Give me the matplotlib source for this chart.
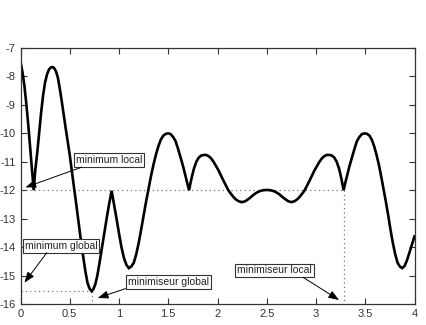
import matplotlib
matplotlib.use("Agg")
import matplotlib.pyplot as plt

plt.rcParams['font.family'] = ['Liberation Sans', 'DejaVu Sans']

# curve
x_vals = [0, 0.02, 0.04, 0.06, 0.08, 0.10, 0.12, 0.134,
          0.15, 0.17, 0.19, 0.21, 0.23, 0.25, 0.27, 0.29, 0.31, 0.325,
          0.34, 0.36, 0.38, 0.40, 0.42, 0.44, 0.46, 0.48, 0.50, 0.52, 0.54, 0.56, 0.58,
          0.60, 0.62, 0.64, 0.66, 0.68, 0.70, 0.722,
          0.74, 0.76, 0.78, 0.80, 0.82, 0.84, 0.86, 0.88, 0.90, 0.925,
          0.95, 0.975, 1.0, 1.025, 1.05, 1.075, 1.10, 1.125,
          1.15, 1.175, 1.20, 1.225, 1.25, 1.275, 1.30, 1.325, 1.35, 1.375, 1.40, 1.425,
          1.45, 1.475, 1.50,
          1.525, 1.55, 1.575, 1.60, 1.625, 1.65, 1.675, 1.69, 1.711,
          1.735, 1.76, 1.785, 1.81, 1.835, 1.86, 1.885, 1.91, 1.935, 1.96, 1.985, 2.01,
          2.035, 2.06, 2.085, 2.11, 2.135, 2.16, 2.185, 2.21, 2.245, 2.28, 2.31, 2.34,
          2.37, 2.40, 2.43, 2.465, 2.5,
          2.535, 2.57, 2.60, 2.63, 2.66, 2.69, 2.72, 2.752, 2.785, 2.81, 2.835, 2.86,
          2.885, 2.91, 2.935, 2.96, 2.985, 3.01, 3.035, 3.06, 3.085, 3.11, 3.135, 3.16,
          3.185, 3.21, 3.235, 3.258, 3.28,
          3.30, 3.315, 3.34, 3.365, 3.39, 3.415, 3.44, 3.465, 3.495,
          3.519, 3.543, 3.566, 3.59, 3.614, 3.638, 3.661, 3.685, 3.709, 3.733, 3.756,
          3.78, 3.804, 3.828, 3.851, 3.875,
          3.90, 3.925, 3.95, 3.975, 4.0]
y_vals = [-7.48, -7.85, -8.33, -9.0, -9.75, -10.6, -11.42, -12.0,
          -11.3, -10.68, -9.95, -9.25, -8.65, -8.2, -7.92, -7.75, -7.68, -7.67,
          -7.70, -7.82, -8.05, -8.45, -8.9, -9.38, -9.85, -10.3, -10.76, -11.3, -11.82, -12.33, -12.88,
          -13.4, -13.95, -14.42, -14.88, -15.25, -15.45, -15.55,
          -15.48, -15.3, -15.0, -14.6, -14.17, -13.74, -13.3, -12.88, -12.48, -12.02,
          -12.5, -13.0, -13.52, -14.0, -14.38, -14.62, -14.74, -14.68,
          -14.55, -14.25, -13.85, -13.38, -12.88, -12.4, -11.95, -11.5, -11.1, -10.75, -10.45, -10.22,
          -10.08, -10.02, -10.0,
          -10.03, -10.13, -10.28, -10.55, -10.85, -11.15, -11.5, -11.7, -12.0,
          -11.6, -11.25, -11.0, -10.85, -10.78, -10.76, -10.76, -10.8, -10.88, -11.0, -11.15, -11.3,
          -11.48, -11.66, -11.83, -12.0, -12.12, -12.23, -12.32, -12.38, -12.42, -12.39, -12.32, -12.24,
          -12.15, -12.08, -12.03, -12.0, -11.99,
          -12.0, -12.03, -12.08, -12.15, -12.24, -12.32, -12.39, -12.42, -12.38, -12.32, -12.23, -12.12,
          -12.0, -11.83, -11.66, -11.48, -11.3, -11.15, -11.0, -10.88, -10.8, -10.76, -10.76, -10.78,
          -10.85, -11.0, -11.25, -11.6, -12.0,
          -11.7, -11.5, -11.15, -10.85, -10.55, -10.28, -10.13, -10.03, -10.0,
          -10.02, -10.08, -10.22, -10.45, -10.75, -11.1, -11.5, -11.95, -12.4, -12.88, -13.38,
          -13.85, -14.25, -14.55, -14.68, -14.74,
          -14.66, -14.45, -14.18, -13.9, -13.62]

x_ticks = [0, 0.5, 1, 1.5, 2, 2.5, 3, 3.5, 4]
x_tick_labels = ["0", "0.5", "1", "1.5", "2", "2.5", "3", "3.5", "4"]
y_ticks = [-7, -8, -9, -10, -11, -12, -13, -14, -15, -16]
y_tick_labels = ["-7", "-8", "-9", "-10", "-11", "-12", "-13", "-14", "-15", "-16"]

local_min_y = -12.0
local_argmin = 3.28
global_min_y = -15.55
global_argmin = 0.722

labels = ["minimum local", "minimum global", "minimiseur global", "minimiseur local"]
label_pos = [(0.901, -10.93), (0.413, -13.97), (1.50, -15.22), (2.577, -14.82)]
arrow_start = [(0.621, -11.19), (0.266, -14.2), (1.065, -15.46), (2.868, -15.06)]
arrow_tip = [(0.05, -11.9), (0.04, -15.25), (0.784, -15.79), (3.234, -15.86)]

fig = plt.figure(figsize=(4.26, 3.25), dpi=100)
ax = fig.add_axes([20.5 / 426, 1 - 304 / 325, 394 / 426, 256 / 325])

dot = dict(color='#777777', lw=0.9, ls=(0, (1, 2.5)))
ax.plot([0, local_argmin], [local_min_y, local_min_y], **dot)
ax.plot([local_argmin, local_argmin], [local_min_y, -16], **dot)
ax.plot([0, global_argmin], [global_min_y, global_min_y], **dot)
ax.plot([global_argmin, global_argmin], [global_min_y, -16], **dot)

ax.plot(x_vals, y_vals, color='black', lw=1.9, solid_joinstyle='miter')

for lab, pos, s, t in zip(labels, label_pos, arrow_start, arrow_tip):
    ax.text(pos[0], pos[1], lab, ha='center', va='center', fontsize=7.5, color='#222222',
            bbox=dict(boxstyle='square,pad=0.18', fc='white', ec='#333333', lw=0.8))
    ax.annotate('', xy=t, xytext=s,
                arrowprops=dict(arrowstyle='-|>,head_length=0.8,head_width=0.3', color='black',
                                lw=0.7, shrinkA=0, shrinkB=0, mutation_scale=8))

ax.set_xlim(0, 4)
ax.set_ylim(-16, -7)
ax.set_xticks(x_ticks)
ax.set_xticklabels(x_tick_labels)
ax.set_yticks(y_ticks)
ax.set_yticklabels(y_tick_labels)
ax.tick_params(direction='in', top=True, right=True, length=4, width=0.8,
               labelsize=8, labelcolor='#333333', color='#333333', pad=3.5)
for sp in ax.spines.values():
    sp.set_color('#333333')
    sp.set_linewidth(0.9)

fig.savefig('out.png', dpi=100)
